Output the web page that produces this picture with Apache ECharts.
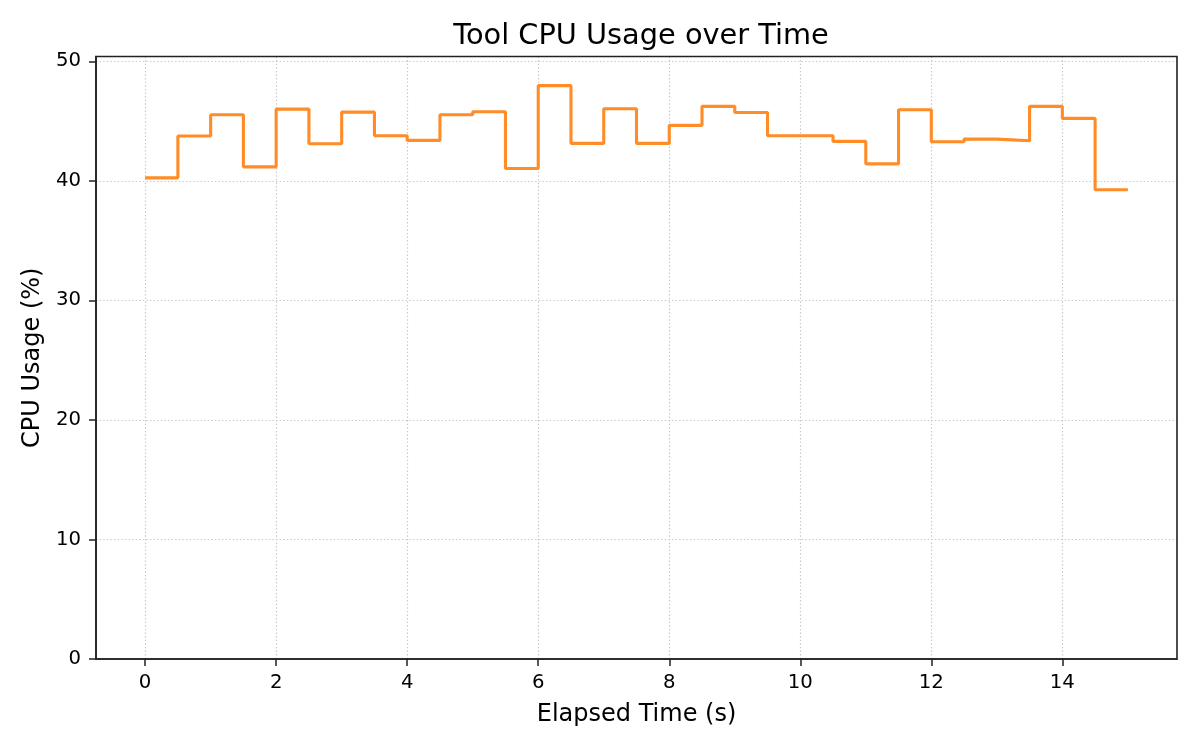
<!DOCTYPE html>
<html>
<head>
<meta charset="utf-8">
<title>Tool CPU Usage over Time</title>
<script src="https://cdn.jsdelivr.net/npm/echarts@6/dist/echarts.min.js"></script>
<style>
  html, body { margin: 0; padding: 0; background: #fff; }
  #main { width: 1200px; height: 750px; }
</style>
</head>
<body>
<div id="main"></div>
<script>
// elapsed time (s) and tool CPU usage (%)
var elapsed = [0, 0.5, 1, 1.5, 2, 2.5, 3, 3.5, 4, 4.5, 5, 5.5, 6, 6.5, 7, 7.5,
               8, 8.5, 9, 9.5, 10, 10.5, 11, 11.5, 12, 12.5, 13, 13.5, 14, 14.5, 15];
var cpuUsage = [40.25, 43.75, 45.53, 41.17, 46.0, 43.1, 45.75, 43.77, 43.38, 45.53,
                45.78, 41.03, 47.96, 43.13, 46.03, 43.13, 44.64, 46.23, 45.72, 43.77,
                43.77, 43.3, 41.42, 45.95, 43.27, 43.49, 43.35, 46.23, 45.22, 39.25, 39.25];
var xTicks = [0, 2, 4, 6, 8, 10, 12, 14];
var yTicks = [0, 10, 20, 30, 40, 50];

var points = elapsed.map(function (t, i) { return [t, cpuUsage[i]]; });

var font = 'DejaVu Sans';
var gridLine = { show: true, lineStyle: { color: '#c8c8c8', width: 1.2, type: [1.4, 2.2] } };
var spine = { color: '#222', width: 1.6 };
var tick = { show: true, length: 7, lineStyle: { color: '#222', width: 1.5 } };

var chart = echarts.init(document.getElementById('main'));
chart.setOption({
    animation: false,
    title: {
        text: 'Tool CPU Usage over Time',
        left: 636, top: 17, textAlign: 'center',
        textStyle: { fontFamily: font, fontSize: 28.8, fontWeight: 'normal', color: '#000' }
    },
    grid: { left: 96, right: 23, top: 56.5, bottom: 91, containLabel: false },
    xAxis: {
        type: 'value', min: -0.75, max: 15.75,
        name: 'Elapsed Time (s)', nameLocation: 'middle', nameGap: 44,
        nameTextStyle: { fontFamily: font, fontSize: 24, color: '#000' },
        axisLine: { show: true, onZero: false, lineStyle: spine },
        axisTick: Object.assign({ customValues: xTicks }, tick),
        axisLabel: { fontFamily: font, fontSize: 19.7, color: '#000', margin: 14, customValues: xTicks },
        splitLine: gridLine
    },
    yAxis: {
        type: 'value', min: 0, max: 50.4,
        name: 'CPU Usage (%)', nameLocation: 'middle', nameGap: 47, nameRotate: 90,
        nameTextStyle: { fontFamily: font, fontSize: 24, color: '#000' },
        axisLine: { show: true, onZero: false, lineStyle: spine },
        axisTick: Object.assign({ customValues: yTicks }, tick),
        axisLabel: { fontFamily: font, fontSize: 19.7, color: '#000', margin: 15, customValues: yTicks },
        splitLine: gridLine
    },
    series: [{
        type: 'line',
        step: 'end',
        data: points,
        showSymbol: false,
        lineStyle: { color: '#ff8c26', width: 3.1 }
    }]
});
// top and right frame of the plot area
chart.setOption({
    graphic: [{
        type: 'rect', silent: true,
        shape: { x: 96, y: 56.5, width: 1081, height: 602.5 },
        style: { fill: 'none', stroke: '#222', lineWidth: 1.6 }
    }]
});
</script>
</body>
</html>
